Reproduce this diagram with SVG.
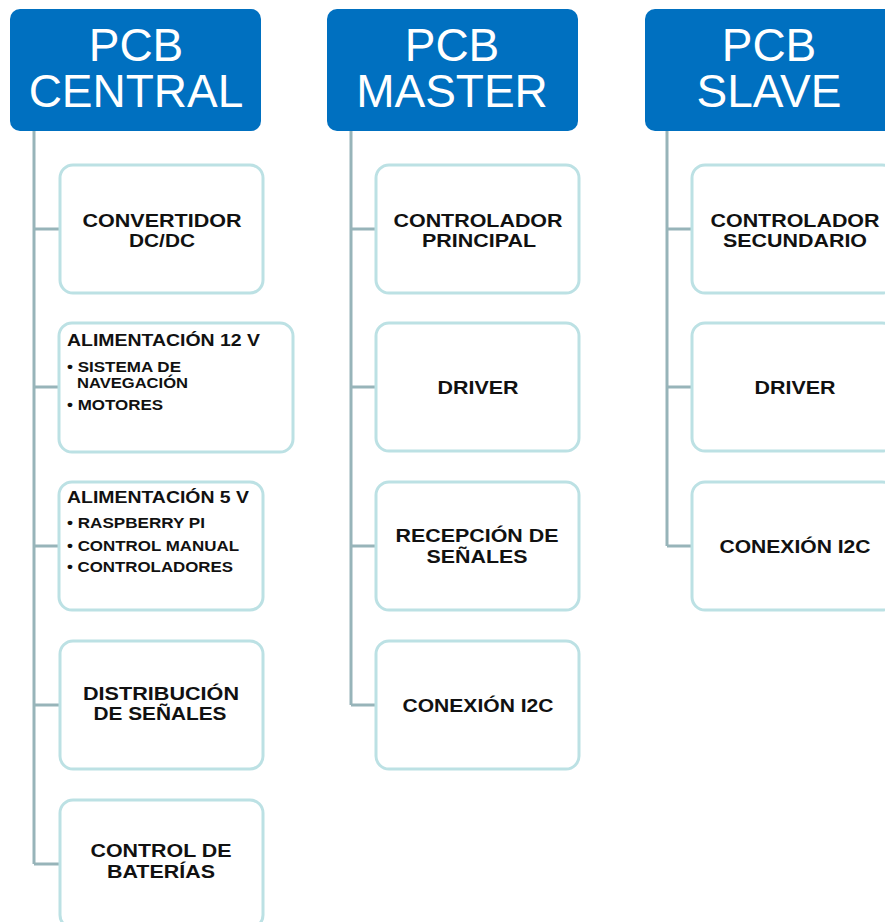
<svg xmlns="http://www.w3.org/2000/svg" width="885" height="922" viewBox="0 0 885 922">
<style>
.hdr{fill:#0070C0;}
.ht{fill:#FFFFFF;font-family:"Liberation Sans",Arial,sans-serif;font-size:46px;text-anchor:middle;}
.box{fill:#FFFFFF;stroke:#BCE1E4;stroke-width:3;}
.lb{fill:#111111;font-family:"Liberation Sans",Arial,sans-serif;font-size:19px;font-weight:bold;text-anchor:middle;}
.hd{fill:#111111;font-family:"Liberation Sans",Arial,sans-serif;font-size:17px;font-weight:bold;}
.bl{fill:#111111;font-family:"Liberation Sans",Arial,sans-serif;font-size:15px;font-weight:bold;}
.cn{fill:none;stroke:#97B4B9;stroke-width:3;}
</style>
<rect width="885" height="922" fill="#FFFFFF"/>
<g id="connectors">
<path class="cn" d="M34 131 V864 M34 229 H60 M34 387 H59 M34 546 H59 M34 705 H60 M34 864 H60"/>
<path class="cn" d="M351 131 V705 M351 229 H376 M351 387 H376 M351 546 H376 M351 705 H376"/>
<path class="cn" d="M667 131 V546 M667 229 H692 M667 387 H692 M667 546 H692"/>
</g>
<g id="pcb-central">
<rect class="hdr" x="10" y="9" width="251" height="122" rx="10"/>
<text class="ht" x="136" y="61">PCB</text>
<text class="ht" x="136" y="107">CENTRAL</text>
</g>
<g id="pcb-master">
<rect class="hdr" x="327" y="9" width="251" height="122" rx="10"/>
<text class="ht" x="452" y="61">PCB</text>
<text class="ht" x="452" y="107">MASTER</text>
</g>
<g id="pcb-slave">
<rect class="hdr" x="645" y="9" width="251" height="122" rx="10"/>
<text class="ht" x="769" y="61">PCB</text>
<text class="ht" x="769" y="107">SLAVE</text>
</g>
<g id="convertidor">
<rect class="box" x="60" y="165" width="203" height="128" rx="13"/>
<text class="lb" x="162" y="227" textLength="159" lengthAdjust="spacingAndGlyphs">CONVERTIDOR</text>
<text class="lb" x="162" y="247" textLength="66" lengthAdjust="spacingAndGlyphs">DC/DC</text>
</g>
<g id="alim12">
<rect class="box" x="59" y="323" width="234" height="129" rx="13"/>
<text class="hd" x="67" y="346" textLength="193" lengthAdjust="spacingAndGlyphs">ALIMENTACIÓN 12 V</text>
<text class="bl" x="67" y="372" textLength="114" lengthAdjust="spacingAndGlyphs">• SISTEMA DE</text>
<text class="bl" x="77" y="388" textLength="111" lengthAdjust="spacingAndGlyphs">NAVEGACIÓN</text>
<text class="bl" x="67" y="410" textLength="96" lengthAdjust="spacingAndGlyphs">• MOTORES</text>
</g>
<g id="alim5">
<rect class="box" x="59" y="482" width="204" height="128" rx="13"/>
<text class="hd" x="67" y="503" textLength="182" lengthAdjust="spacingAndGlyphs">ALIMENTACIÓN 5 V</text>
<text class="bl" x="67" y="528" textLength="138" lengthAdjust="spacingAndGlyphs">• RASPBERRY PI</text>
<text class="bl" x="67" y="551" textLength="172" lengthAdjust="spacingAndGlyphs">• CONTROL MANUAL</text>
<text class="bl" x="67" y="572" textLength="166" lengthAdjust="spacingAndGlyphs">• CONTROLADORES</text>
</g>
<g id="distribucion">
<rect class="box" x="60" y="641" width="203" height="128" rx="13"/>
<text class="lb" x="161" y="700" textLength="156" lengthAdjust="spacingAndGlyphs">DISTRIBUCIÓN</text>
<text class="lb" x="160" y="720" textLength="133" lengthAdjust="spacingAndGlyphs">DE SEÑALES</text>
</g>
<g id="baterias">
<rect class="box" x="60" y="800" width="203" height="128" rx="13"/>
<text class="lb" x="161" y="857" textLength="141" lengthAdjust="spacingAndGlyphs">CONTROL DE</text>
<text class="lb" x="161" y="878" textLength="108" lengthAdjust="spacingAndGlyphs">BATERÍAS</text>
</g>
<g id="ctrl-principal">
<rect class="box" x="376" y="165" width="203" height="128" rx="13"/>
<text class="lb" x="478" y="227" textLength="169" lengthAdjust="spacingAndGlyphs">CONTROLADOR</text>
<text class="lb" x="479" y="247" textLength="114" lengthAdjust="spacingAndGlyphs">PRINCIPAL</text>
</g>
<g id="driver-master">
<rect class="box" x="376" y="323" width="203" height="128" rx="13"/>
<text class="lb" x="478" y="394" textLength="81" lengthAdjust="spacingAndGlyphs">DRIVER</text>
</g>
<g id="recepcion">
<rect class="box" x="376" y="482" width="203" height="128" rx="13"/>
<text class="lb" x="477" y="542" textLength="163" lengthAdjust="spacingAndGlyphs">RECEPCIÓN DE</text>
<text class="lb" x="477" y="563" textLength="101" lengthAdjust="spacingAndGlyphs">SEÑALES</text>
</g>
<g id="i2c-master">
<rect class="box" x="376" y="641" width="203" height="128" rx="13"/>
<text class="lb" x="478" y="712" textLength="151" lengthAdjust="spacingAndGlyphs">CONEXIÓN I2C</text>
</g>
<g id="ctrl-secundario">
<rect class="box" x="692" y="165" width="203" height="128" rx="13"/>
<text class="lb" x="795" y="227" textLength="169" lengthAdjust="spacingAndGlyphs">CONTROLADOR</text>
<text class="lb" x="795" y="247" textLength="144" lengthAdjust="spacingAndGlyphs">SECUNDARIO</text>
</g>
<g id="driver-slave">
<rect class="box" x="692" y="323" width="203" height="128" rx="13"/>
<text class="lb" x="795" y="394" textLength="81" lengthAdjust="spacingAndGlyphs">DRIVER</text>
</g>
<g id="i2c-slave">
<rect class="box" x="692" y="482" width="203" height="128" rx="13"/>
<text class="lb" x="795" y="553" textLength="151" lengthAdjust="spacingAndGlyphs">CONEXIÓN I2C</text>
</g>
</svg>
